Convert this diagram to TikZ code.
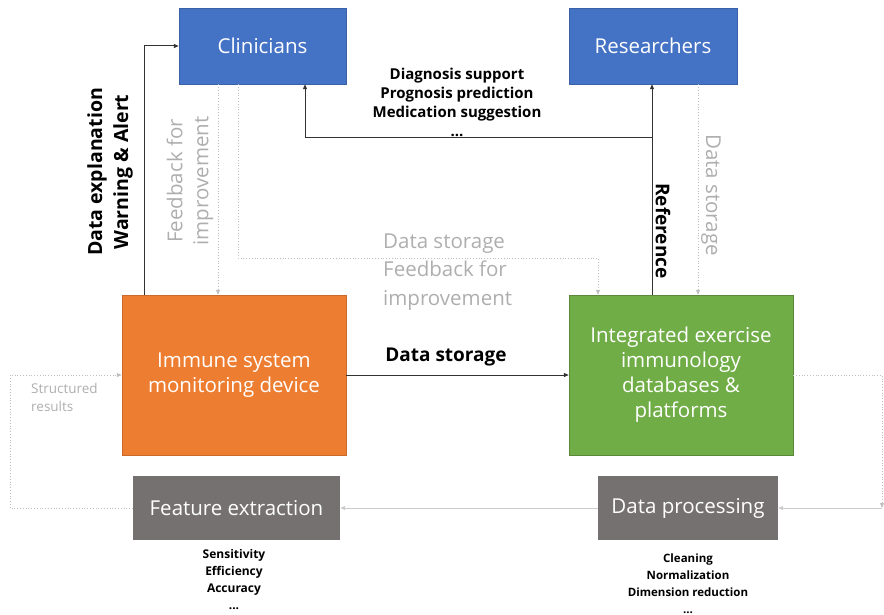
\documentclass[tikz,border=0pt]{standalone}
\usepackage{fontspec}
\setmainfont{Open Sans}
\usetikzlibrary{arrows.meta}
\definecolor{cblue}{HTML}{4472C4}
\definecolor{corange}{HTML}{ED7D31}
\definecolor{cgreen}{HTML}{70AD47}
\definecolor{cgrey}{HTML}{767171}
\definecolor{lgrey}{HTML}{BFBFBF}
\definecolor{tgrey}{HTML}{AEAEAE}
\newcommand{\fs}[2]{\fontsize{#1}{#2}\selectfont}
\begin{document}
\begin{tikzpicture}[x=1pt,y=-1pt,
  box/.style={rectangle, inner sep=0pt, text=white, align=center, font=\fs{20.5}{25}},
  blk/.style={draw=black!80, line width=1pt, -{Triangle[length=5pt,width=4pt]}},
  gry/.style={draw=lgrey, line width=0.8pt, dotted, -{Triangle[length=5pt,width=4pt]}},
  gsolid/.style={draw=lgrey!80, line width=0.9pt, -{Triangle[length=5pt,width=4pt]}},
  lbl/.style={inner sep=0pt, align=center},
]
\useasboundingbox (0,0) rectangle (884,615);

% main boxes
\node[box, fill=cblue, draw=cblue!85!black, minimum width=167pt, minimum height=76pt] (cli) at (262.5,46) {Clinicians};
\node[box, fill=cblue, draw=cblue!85!black, minimum width=168pt, minimum height=76pt] (res) at (653,46) {Researchers};
\node[box, fill=corange, draw=corange!85!black, minimum width=224pt, minimum height=160pt] (imm) at (234,375) {Immune system\\monitoring device};
\node[box, fill=cgreen, draw=cgreen!80!black, minimum width=224pt, minimum height=160pt] (int) at (681,375) {Integrated exercise\\immunology\\databases \&\\platforms};
\node[box, fill=cgrey, minimum width=207pt, minimum height=64pt] (fe) at (236.5,508) {Feature extraction};
\node[box, fill=cgrey, minimum width=180pt, minimum height=64pt] (dp) at (688,508) {Data processing};

% bend points
\coordinate (c1) at (598,258);
\coordinate (r1) at (652,138);
\coordinate (l1) at (10,508);
\coordinate (rr1) at (882,375);
\coordinate (rr2) at (882,508);

% device -> clinicians
\draw[blk] ([xshift=23pt]imm.north west) |- (cli.west);
% clinicians -> device
\draw[gry] ([xshift=-44.5pt]cli.south) -- ([xshift=-16pt]imm.north);
% clinicians -> databases
\draw[gry] ([xshift=-24.5pt]cli.south) |- (c1) -- ([xshift=-83pt]int.north);
% databases -> researchers / clinicians
\draw[blk] ([xshift=-29pt]int.north) -- ([xshift=-1pt]res.south);
\draw[blk] (r1) -| ([xshift=42.5pt]cli.south);
% researchers -> databases
\draw[gry] ([xshift=45pt]res.south) -- ([xshift=17pt]int.north);
% device -> databases
\draw[blk] (imm.east) -- (int.west);
% processing loop
\draw[gry] (int.east) -- (rr1) -- (rr2);
\draw[gsolid] (rr2) -- (dp.east);
\draw[gsolid] (dp.west) -- (fe.east);
\draw[gry] (fe.west) -- (l1) |- (imm.west);

% labels
\node[lbl, rotate=90, font=\bfseries\fs{19.5}{26}] (lde) at (110,172) {Data explanation\\Warning \& Alert};
\node[lbl, rotate=90, text=tgrey, font=\fs{20.5}{26}] (lfb) at (190,181) {Feedback for\\improvement};
\node[lbl, rotate=-90, font=\bfseries\fs{19}{20}] (lref) at (663,231) {Reference};
\node[lbl, rotate=-90, text=tgrey, font=\fs{20.5}{20}] (lds) at (711,195) {Data storage};
\node[lbl, anchor=west, align=left, text=tgrey, font=\fs{20.5}{28.5}] (lmid) at (383,272) {Data storage\\Feedback for\\improvement};
\node[lbl, font=\bfseries\fs{19}{20}] (lstore) at (446,357) {Data storage};
\node[lbl, font=\bfseries\fs{15}{19}] (ldiag) at (457,102) {Diagnosis support\\Prognosis prediction\\Medication suggestion\\...};
\node[lbl, anchor=west, align=left, text=tgrey, font=\fs{13.5}{18}] (lsr) at (31,397) {Structured\\results};
\node[lbl, font=\bfseries\fs{12}{17}] (lfe) at (234,580) {Sensitivity\\Efficiency\\Accuracy\\...};
\node[lbl, font=\bfseries\fs{11.5}{17}] (ldp) at (688,584) {Cleaning\\Normalization\\Dimension reduction\\...};
\end{tikzpicture}
\end{document}
